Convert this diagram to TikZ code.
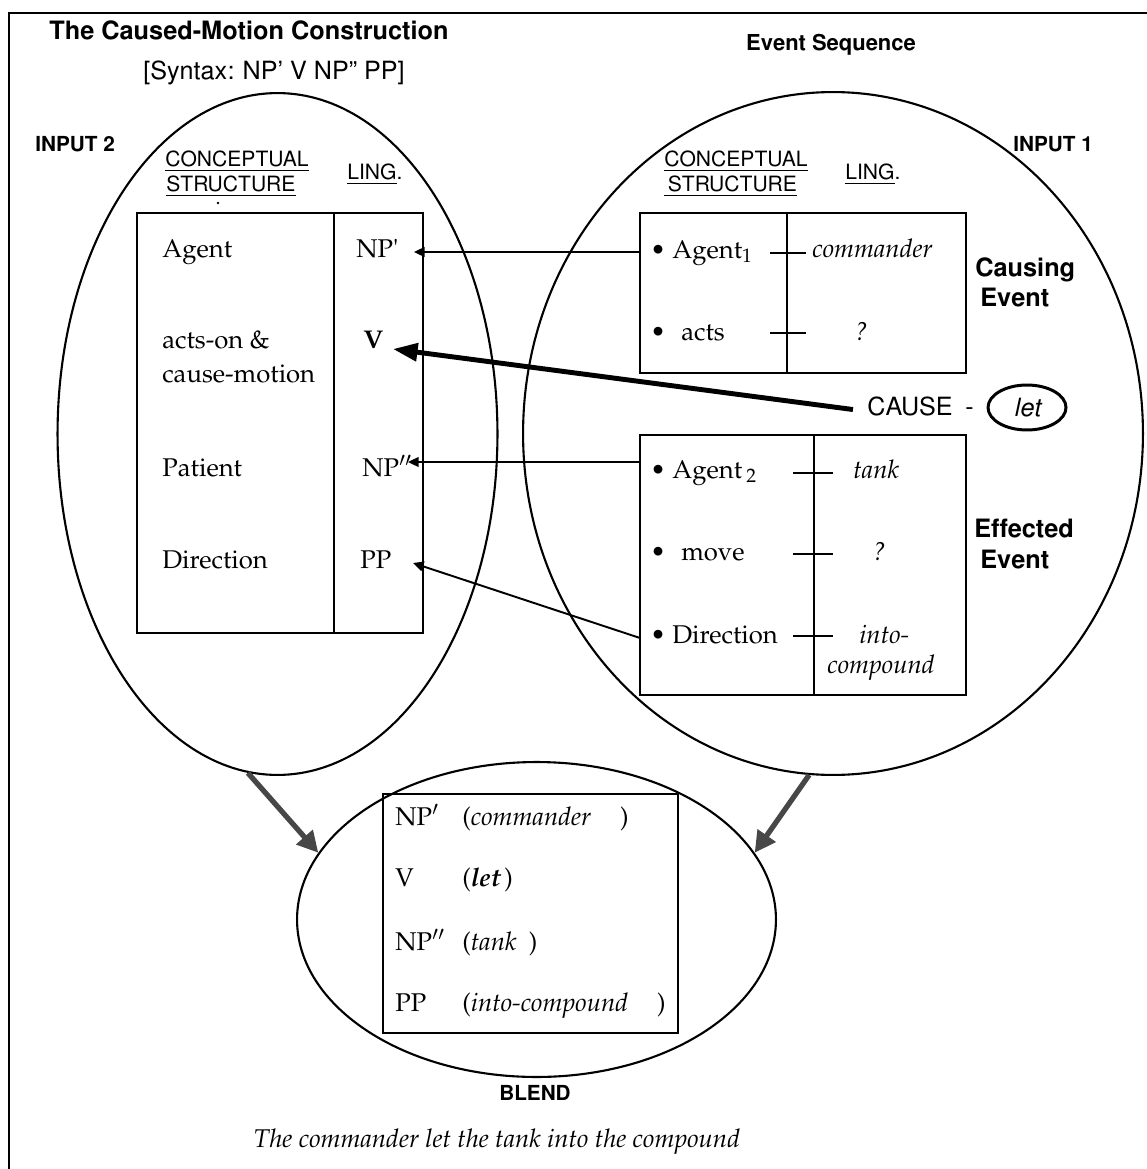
\documentclass[tikz,border=0pt]{standalone}
\usepackage[T1]{fontenc}
\usepackage{mathpazo}
\renewcommand{\sfdefault}{phv}
\usetikzlibrary{arrows.meta,shapes.geometric,fit}

\tikzset{
  outerframe/.style={line width=1.7pt},
  oval/.style={draw, ellipse, line width=1.2pt, inner sep=0pt},
  tablebox/.style={draw, line width=1.25pt, inner sep=0pt},
  rule/.style={line width=1.25pt},
  tick/.style={line width=1.2pt},
  rm/.style={font=\fontsize{14.6}{17}\selectfont, inner sep=0pt, anchor=base west},
  it/.style={font=\fontsize{14.6}{17}\selectfont\itshape, inner sep=0pt, anchor=base west},
  hdr/.style={font=\fontsize{12}{14}\selectfont\sffamily, inner sep=0pt, anchor=base west},
  ttl/.style={font=\fontsize{14.4}{17}\selectfont\sffamily\bfseries, inner sep=0pt},
  sub/.style={font=\fontsize{14.3}{17}\selectfont\sffamily, inner sep=0pt},
  lbl/.style={font=\fontsize{11.8}{14}\selectfont\sffamily\bfseries, inner sep=0pt, anchor=base west},
  evt/.style={font=\fontsize{14.4}{17}\selectfont\sffamily\bfseries, inner sep=0pt, anchor=base west},
  maparrow/.style={line width=1.1pt, -{Triangle[length=6pt,width=5.5pt]}},
  causearrow/.style={line width=2.8pt, -{Triangle[length=14pt,width=10pt]}},
  blendarrow/.style={draw=black!72, line width=3pt, -{Triangle[length=12pt,width=12pt]}}
}

\begin{document}
\begin{tikzpicture}[x=0.02cm, y=-0.02cm]
\useasboundingbox (0,0) rectangle (1146,1169);

% outer frame
\draw[outerframe] (9,1200) -- (9,13) -- (1200,13);

% headings
\node[ttl, anchor=base] (title) at (249,40) {The Caused-Motion Construction};
\node[sub, anchor=base] (syntax) at (274,80) {[Syntax: NP' V NP'' PP]};
\node[ttl, anchor=base, font=\fontsize{12.5}{15}\selectfont\sffamily\bfseries] (evseq) at (831,51) {Event Sequence};
\node[lbl] (in2lbl) at (35,152) {INPUT 2};
\node[lbl] (in1lbl) at (1013,152) {INPUT 1};

% the three mental spaces
\node[oval, minimum width=8.8cm, minimum height=13.64cm] (in2) at (277.5,434) {};
\node[oval, minimum width=12.4cm, minimum height=13.66cm] (in1) at (833,433.5) {};
\node[oval, minimum width=9.58cm, minimum height=6.3cm] (blend) at (536.5,919.5) {};

% column headings, input 2
\node[hdr] (cs2a) at (165,167) {\underline{CONCEPTUAL}};
\node[hdr] (cs2b) at (166,192) {\underline{STRUCTURE}};
\fill (218,203) circle [radius=1.4];
\node[hdr] (ling2) at (347,180) {\underline{LING}.};

% column headings, input 1
\node[hdr] (cs1a) at (664,167) {\underline{CONCEPTUAL}};
\node[hdr] (cs1b) at (664,192) {\underline{\hspace{2pt}STRUCTURE}};
\node[hdr] (ling1) at (845,180) {\underline{LING}.};

% input 2: construction table
\node[tablebox, fit={(137,213) (423,633)}] (ltab) {};
\draw[rule] (334,213) -- (334,633);
\node[rm] (agent) at (162,257) {Agent};
\node[rm] (np1) at (356,257) {NP\textquotesingle};
\node[rm] (acts) at (162,348) {acts-on \&};
\node[rm] (cmot) at (162,382) {cause-motion};
\node[rm, font=\fontsize{14.6}{17}\selectfont\bfseries] (vlab) at (363,348) {V};
\node[rm] (pat) at (162,476) {Patient};
\node[rm] (np2) at (362,476) {NP$''$};
\node[rm] (dir) at (162,568) {Direction};
\node[rm] (pp) at (360,568) {PP};

% input 1: causing event
\node[tablebox, fit={(640,213) (966,373)}] (rtop) {};
\draw[rule] (787,213) -- (787,373);
\node[rm] (ag1) at (650,258) {\textbullet\ Agent$_1$};
\draw[tick] (770,253) -- (806,253);
\node[it] (cmd) at (812,257) {commander};
\node[rm] (act) at (650,340) {\textbullet\hspace{0.6em}acts};
\draw[tick] (770,333) -- (806,333);
\node[it] (q1) at (855,340) {?};
\node[evt] (caus1) at (975,276) {Causing};
\node[evt] (caus2) at (980,306) {Event};

% CAUSE - let
\node[sub, anchor=base west] (cause) at (867,415) {CAUSE};
\node[sub, anchor=base west] (dash) at (965,415) {-};
\node[draw, ellipse, line width=1.7pt, inner sep=0pt, minimum width=1.56cm, minimum height=0.9cm,
      font=\fontsize{14.3}{17}\selectfont\sffamily\itshape] (let) at (1027,407.5) {let\hspace{12pt}};

% input 1: effected event
\node[tablebox, fit={(640,435) (966,695)}] (rbot) {};
\draw[rule] (814,435) -- (814,695);
\node[rm] (ag2) at (650,478) {\textbullet\ Agent\,$_2$};
\draw[tick] (793,473) -- (833,473);
\node[it] (tank) at (853,478) {tank};
\node[rm] (move) at (650,560) {\textbullet\hspace{0.6em}move};
\draw[tick] (793,554) -- (833,554);
\node[it] (q2) at (873,560) {?};
\node[rm] (dir1) at (650,643) {\textbullet\ Direction};
\draw[tick] (793,636) -- (833,636);
\node[it] (into) at (859,643) {into-};
\node[it] (comp) at (827,673) {compound};
\node[evt] (eff1) at (974,537) {Effected};
\node[evt] (eff2) at (980,568) {Event};

% mappings from the event sequence into the construction
\coordinate (np1tip) at (414,252);
\coordinate (vtip) at (393,349);
\coordinate (np2tip) at (408,462);
\coordinate (pptip) at (413,563);
\coordinate (dirsrc) at (640,638);
\draw[maparrow] (rtop.west |- np1tip) -- (np1tip);
\draw[maparrow] (rbot.west |- np2tip) -- (np2tip);
\draw[maparrow] (dirsrc) -- (pptip);
\draw[causearrow] ([xshift=-8pt,yshift=-2pt]cause.west) -- (vtip);

% projections into the blend
\draw[blendarrow] (in2.265) -- (blend.163);
\draw[blendarrow] (in1.266) -- (blend.17);

% blend table
\node[tablebox, fit={(383,794) (678,1033)}] (btab) {};
\node[rm] (bnp1) at (395,825) {NP$'$};
\node[rm] (bcmd) at (462,825) {(\makebox[85pt][l]{\itshape commander})};
\node[rm] (bv) at (395,886) {V};
\node[rm] (blet) at (462,886) {(\makebox[19pt][l]{\bfseries\itshape let})};
\node[rm] (bnp2) at (395,950) {NP$''$};
\node[rm] (btank) at (462,950) {(\makebox[33pt][l]{\itshape tank})};
\node[rm] (bpp) at (395,1011) {PP};
\node[rm] (binto) at (462,1011) {(\makebox[106pt][l]{\itshape into-compound})};

% captions
\node[lbl, anchor=base] (blendlbl) at (535,1100) {BLEND};
\node[it, anchor=base] (sentence) at (497,1147) {The commander let the tank into the compound};
\end{tikzpicture}
\end{document}
